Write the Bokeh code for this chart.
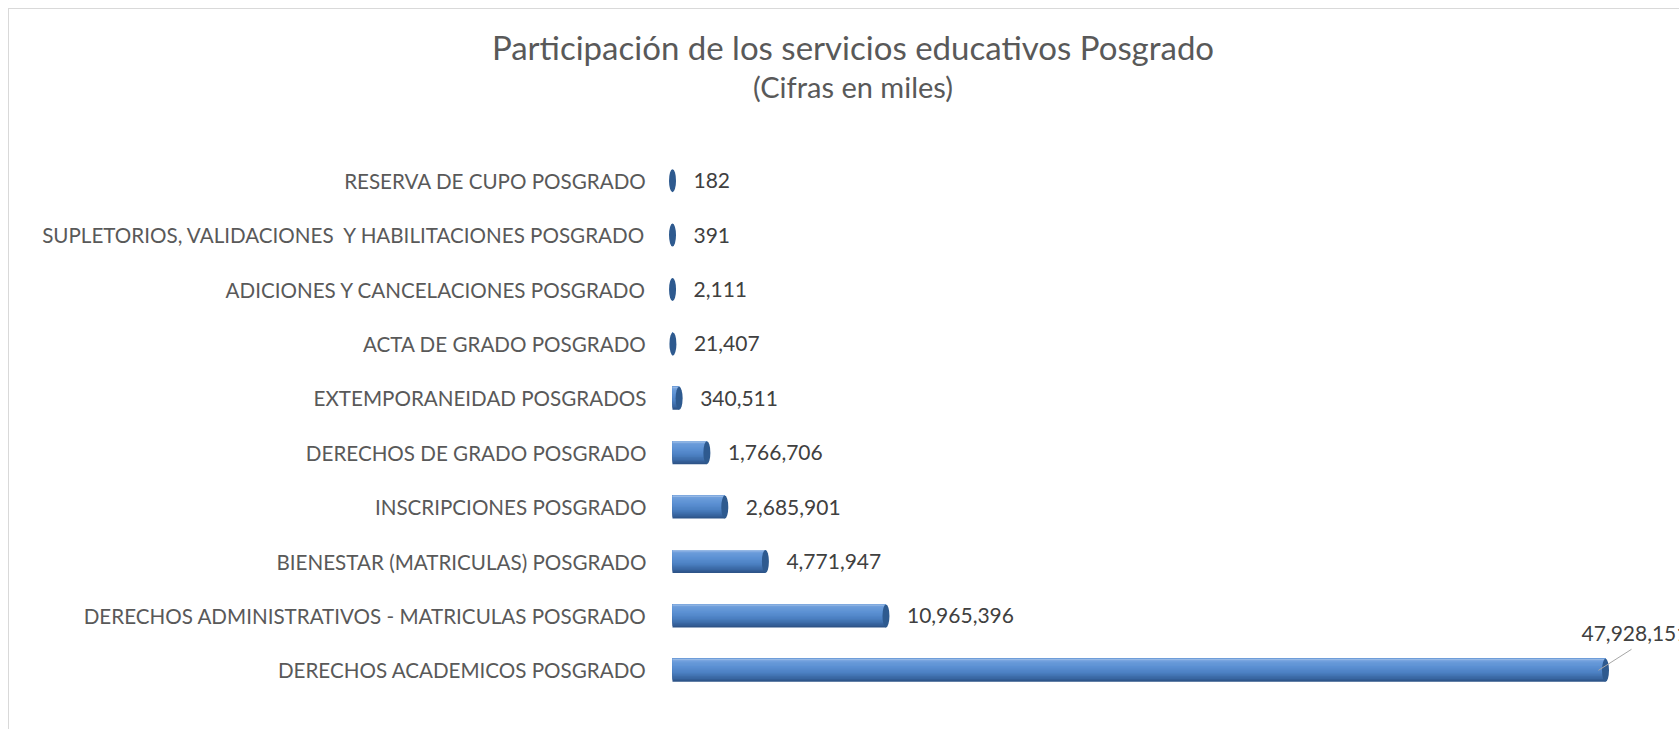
from bokeh.plotting import figure
from bokeh.layouts import column
from bokeh.models import Range1d, FixedTicker, ColumnDataSource
from bokeh.core.properties import value
from bokeh.embed import file_html
from bokeh.resources import INLINE

# ---------------- data ----------------
categories = [
    "RESERVA DE CUPO POSGRADO",
    "SUPLETORIOS, VALIDACIONES\u00a0 Y HABILITACIONES POSGRADO",
    "ADICIONES Y CANCELACIONES POSGRADO",
    "ACTA DE GRADO POSGRADO",
    "EXTEMPORANEIDAD POSGRADOS",
    "DERECHOS DE GRADO POSGRADO",
    "INSCRIPCIONES POSGRADO",
    "BIENESTAR (MATRICULAS) POSGRADO",
    "DERECHOS ADMINISTRATIVOS - MATRICULAS POSGRADO",
    "DERECHOS ACADEMICOS POSGRADO",
]
values = [182, 391, 2111, 21407, 340511, 1766706, 2685901, 4771947, 10965396, 47928151]
title_text = "Participación de los servicios educativos Posgrado"
subtitle_text = "(Cifras en miles)"

FONT_NAME = "Lato"
FONT = value(FONT_NAME)
TXT = "#595959"

# ---------------- layout constants ----------------
W = 1670
TOP_H = 144
H = 576
LEFT, BOTTOM = 659, 32
frame_w = W - LEFT
frame_h = H - BOTTOM
n = len(categories)
row_px = frame_h / n
max_px = 933                      # pixel length of the longest bar
xpp = max(values) / max_px        # data units per pixel
x0 = -4 * xpp
x1 = x0 + frame_w * xpp

# ---------------- title strip ----------------
top = figure(width=W, height=TOP_H, output_backend="svg", toolbar_location=None,
             x_range=Range1d(0, W), y_range=Range1d(TOP_H, 0),
             x_axis_type=None, y_axis_type=None,
             min_border_left=0, min_border_right=0, min_border_top=0, min_border_bottom=0,
             background_fill_color="white", border_fill_color="white")
top.frame_align = False
top.title = None
top.outline_line_color = None
top.text(x=[843.5], y=[37], text=[title_text],
         text_align="center", text_baseline="alphabetic", text_font=FONT,
         text_font_size="33px", text_color=TXT)
top.text(x=[843.5], y=[77], text=[subtitle_text],
         text_align="center", text_baseline="alphabetic", text_font=FONT,
         text_font_size="29px", text_color=TXT)

# ---------------- bar chart ----------------
ys = [n - 1 - i for i in range(n)]
bar_px = 23
bar_h = bar_px / row_px

p = figure(width=W, height=H, output_backend="svg", toolbar_location=None,
           x_range=Range1d(x0, x1), y_range=Range1d(-0.5, n - 0.5),
           min_border_left=LEFT, min_border_right=0,
           min_border_top=0, min_border_bottom=BOTTOM,
           background_fill_color="white", border_fill_color="white")
p.frame_align = False
p.title = None
p.outline_line_color = None
p.xgrid.visible = False
p.ygrid.visible = False
p.xaxis.visible = False

yax = p.yaxis[0]
yax.ticker = FixedTicker(ticks=ys)
yax.major_label_overrides = {y: c for y, c in zip(ys, categories)}
yax.axis_line_color = None
yax.major_tick_line_color = None
yax.minor_tick_line_color = None
yax.major_label_standoff = 16
yax.major_label_text_font = FONT_NAME
yax.major_label_text_font_size = "20.6px"
yax.major_label_text_color = TXT

# cylinder shading: nested layers from the top edge downwards
stops = [(0.0, (0xA8, 0xC4, 0xE9)), (0.1, (0x6C, 0x9D, 0xDB)), (0.35, (0x5B, 0x90, 0xD3)),
         (0.6, (0x4C, 0x81, 0xC3)), (0.85, (0x38, 0x65, 0xA0)), (1.0, (0x2B, 0x50, 0x82))]


def grad(t):
    for (t0, c0), (t1, c1) in zip(stops[:-1], stops[1:]):
        if t0 <= t <= t1:
            f = (t - t0) / (t1 - t0)
            return "#%02x%02x%02x" % tuple(int(round(a + (b - a) * f)) for a, b in zip(c0, c1))
    return "#2b5082"


N = 16
for k in range(N):
    t_bot = 1 - k / N
    h = t_bot * bar_h
    dy = bar_h / 2 - h / 2
    p.hbar(y=[y + dy for y in ys], left=0, right=values, height=h,
           fill_color=grad(t_bot - 0.5 / N), line_color=None)

p.ellipse(x=values, y=ys, width=7, height=bar_px, width_units="screen",
          height_units="screen", fill_color="#2E5A8F", line_color=None)

# ---------------- value labels ----------------
vmax = max(values)
fmt = ["{:,}".format(v) for v in values]
norm = ColumnDataSource(dict(x=[v for v in values if v != vmax],
                             y=[y for v, y in zip(values, ys) if v != vmax],
                             t=[f for v, f in zip(values, fmt) if v != vmax]))
p.text(x="x", y="y", text="t", source=norm, x_offset=21, text_baseline="middle",
       text_align="left", text_font=FONT, text_font_size="21px", text_color="#404040")

big = ColumnDataSource(dict(x=[v for v in values if v == vmax],
                            y=[y for v, y in zip(values, ys) if v == vmax],
                            t=[f for v, f in zip(values, fmt) if v == vmax]))
p.text(x="x", y="y", text="t", source=big, x_offset=-24, y_offset=-37,
       text_baseline="middle", text_align="left", text_font=FONT,
       text_font_size="21px", text_color="#404040")
p.segment(x0=[v - 7 * xpp for v in big.data["x"]], y0=big.data["y"],
          x1=[v + 26 * xpp for v in big.data["x"]], y1=[y + 21 / row_px for y in big.data["y"]],
          line_color="#A6A6A6", line_width=1)

layout = column(top, p, spacing=0)
layout.styles = {"margin-left": "8px", "margin-top": "8px",
                 "border-top": "1px solid #D9D9D9", "border-left": "1px solid #D9D9D9"}

open("out.html", "w").write(file_html(layout, INLINE))
